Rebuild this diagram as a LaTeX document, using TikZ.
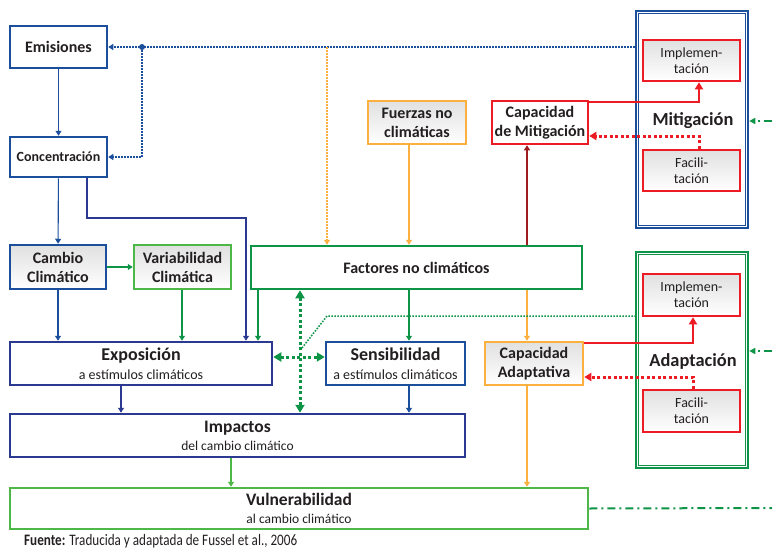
\documentclass[tikz,border=0pt]{standalone}
\usepackage{fontspec}
\setmainfont{Carlito}
\newfontfamily\condfont[FakeStretch=0.82]{Carlito}
\usetikzlibrary{arrows.meta, positioning}

\definecolor{azul}{HTML}{1B4F9C}
\definecolor{marino}{HTML}{2B3990}
\definecolor{verde}{HTML}{0E9447}
\definecolor{verdeclaro}{HTML}{4DB848}
\definecolor{naranja}{HTML}{FBB040}
\definecolor{rojo}{HTML}{ED1C24}
\definecolor{rojoosc}{HTML}{9E1B20}
\definecolor{texto}{HTML}{231F20}

\tikzset{
  caja/.style={draw, line width=2.5pt, fill=white, align=center, inner sep=0pt,
    text=texto, font=\bfseries\fontsize{16}{19}\selectfont},
  sombra/.style={top color=black!12, bottom color=white},
  chica/.style={font=\fontsize{14}{16}\selectfont},
  flecha/.style={-{Triangle[width=6pt,length=5pt]}, line width=1.1pt},
  flechagr/.style={-{Triangle[width=8pt,length=7pt]}, line width=2pt},
  puntos/.style={line width=1.8pt, dash pattern=on 1.6pt off 1.4pt},
  puntosgr/.style={line width=3pt, dash pattern=on 3pt off 2.5pt},
  rayapunto/.style={line width=2pt, dash pattern=on 8pt off 4pt on 2pt off 4pt}
}

\begin{document}
\begin{tikzpicture}[x=1pt, y=-1pt]
\useasboundingbox (0,0) rectangle (772,549);

% columns and turning points
\coordinate (jd) at (142,47);
\coordinate (k87) at (87,0);
\coordinate (k121) at (121,0);
\coordinate (k182) at (182,0);
\coordinate (k231) at (231,0);
\coordinate (k246) at (246,218);
\coordinate (k258) at (258,0);
\coordinate (k300) at (300,0);
\coordinate (k327) at (327,47);
\coordinate (k409) at (409,0);
\coordinate (k527) at (527,0);
\coordinate (k699) at (699,102);
\coordinate (k693) at (693,343);
\coordinate (gx) at (302,348);
\coordinate (gy) at (327,316);
\coordinate (borde1) at (772,121);
\coordinate (borde2) at (772,351);
\coordinate (borde3) at (772,508);

% left column
\node[caja, draw=azul, minimum width=97pt, minimum height=42pt] (emis) at (58.5,47) {Emisiones};
\node[caja, draw=azul, minimum width=97pt, minimum height=40pt, font=\bfseries\fontsize{14}{16}\selectfont] (conc) at (58.5,157) {Concentración};
\node[caja, sombra, draw=azul, minimum width=96pt, minimum height=44pt] (cambio) at (58,267) {Cambio\\Climático};
\node[caja, sombra, draw=verdeclaro, minimum width=97pt, minimum height=44pt] (variab) at (182.5,267) {Variabilidad\\Climática};

% middle
\node[caja, draw=verde, minimum width=331pt, minimum height=43pt] (factores) at (416.5,267.5) {Factores no climáticos};
\node[caja, sombra, draw=naranja, minimum width=98pt, minimum height=43pt] (fuerzas) at (417,122.5) {Fuerzas no\\climáticas};
\node[caja, draw=rojo, minimum width=96pt, minimum height=43pt] (capmit) at (540,122.5) {Capacidad\\de Mitigación};

% mitigation block
\node[draw=azul, line width=2.5pt, minimum width=112pt, minimum height=217pt, inner sep=0pt] (mitig) at (692,119.5) {};
\draw[azul, line width=1pt] ([shift={(4pt,4pt)}]mitig.south west) rectangle ([shift={(-4pt,-4pt)}]mitig.north east);
\node[caja, sombra, chica, draw=rojo, minimum width=97pt, minimum height=41pt] (implM) at (691.5,60.5) {Implemen-\\tación};
\node[caja, sombra, chica, draw=rojo, minimum width=97pt, minimum height=41pt] (facilM) at (691.5,170.5) {Facili-\\tación};
\node[text=texto, font=\bfseries\fontsize{18.4}{20}\selectfont] (mitlab) at (693,121) {Mitigación};

% adaptation block
\node[draw=verde, line width=2.5pt, minimum width=112pt, minimum height=216pt, inner sep=0pt] (adapt) at (692,360) {};
\draw[verde, line width=1pt] ([shift={(4pt,4pt)}]adapt.south west) rectangle ([shift={(-4pt,-4pt)}]adapt.north east);
\node[caja, sombra, chica, draw=rojo, minimum width=97pt, minimum height=42pt] (implA) at (691.5,295) {Implemen-\\tación};
\node[caja, sombra, chica, draw=rojo, minimum width=97pt, minimum height=42pt] (facilA) at (691.5,411) {Facili-\\tación};
\node[text=texto, font=\bfseries\fontsize{18.4}{20}\selectfont] (adaplab) at (693,361) {Adaptación};

% lower boxes
\node[caja, draw=marino, minimum width=262pt, minimum height=43pt, font=\bfseries\fontsize{18}{19}\selectfont] (expo) at (141,363.5)
  {Exposición\\{\mdseries\fontsize{14}{19}\selectfont a estímulos climáticos}};
\node[caja, draw=azul, minimum width=139pt, minimum height=43pt, font=\bfseries\fontsize{18}{19}\selectfont] (sensib) at (395.5,363.5)
  {Sensibilidad\\{\mdseries\fontsize{14}{19}\selectfont a estímulos climáticos}};
\node[caja, sombra, draw=naranja, minimum width=98pt, minimum height=43pt] (capad) at (534,363.5) {Capacidad\\Adaptativa};
\node[caja, draw=marino, minimum width=455pt, minimum height=43pt, font=\bfseries\fontsize{17.5}{18}\selectfont] (impactos) at (237.5,435.5)
  {Impactos\\{\mdseries\fontsize{13.5}{18}\selectfont del cambio climático}};
\node[caja, draw=verdeclaro, minimum width=578pt, minimum height=41pt, font=\bfseries\fontsize{17.5}{18}\selectfont] (vulner) at (299,508.5)
  {Vulnerabilidad\\{\mdseries\fontsize{13.5}{18}\selectfont al cambio climático}};

\node[anchor=west, inner sep=0pt, text=texto, font=\condfont\fontsize{16}{17}\selectfont] (fuente) at (24,541)
  {\textbf{Fuente:} Traducida y adaptada de Fussel et al., 2006};

% connectors
\draw[flecha, azul] (emis) -- (conc);
\draw[flecha, azul] (conc) -- (cambio);
\draw[azul, puntos, -{Triangle[width=6pt,length=5pt]}] (emis.east -| mitig.west) -- (emis.east);
\fill[azul] (jd) circle (3pt);
\draw[azul, puntos, -{Triangle[width=6pt,length=5pt]}] (jd) |- (conc.east);
\draw[flecha, marino] (conc.south -| k87) |- (k246) -- (expo.north -| k246);
\draw[flecha, verde] (cambio) -- (variab);
\draw[flecha, azul] (cambio) -- (cambio.south |- expo.north);
\draw[flecha, verde] (variab.south -| k182) -- (expo.north -| k182);
\draw[flecha, verde] (factores.south -| k258) -- (expo.north -| k258);
\draw[flecha, verde] (factores.south -| k409) -- (sensib.north -| k409);
\draw[flecha, naranja] (fuerzas.south -| k409) -- (factores.north -| k409);
\draw[naranja, puntos, -{Triangle[width=6pt,length=5pt]}] (k327) -- (factores.north -| k327);
\draw[flecha, rojoosc, line width=2pt] (factores.north -| k527) -- (capmit.south -| k527);
\draw[rojo, flechagr] (capmit.east |- k699) -- (k699) -- (implM.south -| k699);
\draw[rojo, puntosgr, -{Triangle[width=8pt,length=7pt]}] (facilM.north -| k699) |- (capmit.east |- 0,136);
\draw[flecha, naranja] (factores.south -| k527) -- (capad.north -| k527);
\draw[flecha, naranja] (capad.south -| k527) -- (vulner.north -| k527);
\draw[rojo, flechagr] (capad.east |- k693) -- (k693) -- (implA.south -| k693);
\draw[rojo, puntosgr, -{Triangle[width=8pt,length=7pt]}] (facilA.north -| k693) |- (capad.east |- 0,377);
\draw[flecha, marino] (expo.south -| k121) -- (impactos.north -| k121);
\draw[flecha, azul] (sensib.south -| k409) -- (impactos.north -| k409);
\draw[verde, puntosgr, {Triangle[width=9pt,length=8pt]}-{Triangle[width=9pt,length=8pt]}] (factores.south -| k300) -- (impactos.north -| k300);
\draw[verde, puntosgr, {Triangle[width=9pt,length=8pt]}-{Triangle[width=9pt,length=8pt]}] (expo.east |- 0,357) -- (sensib.west |- 0,357);
\draw[verde, puntos, line width=1.5pt] (gx) -- (gy) -- (gy -| adapt.west);
\draw[flecha, verdeclaro, line width=1.5pt] (impactos.south -| k231) -- (vulner.north -| k231);
\draw[verde, rayapunto] (vulner.east) -- (borde3);
\draw[verde, rayapunto, -{Triangle[width=6pt,length=6pt]}] (borde1) -- (borde1 -| mitig.east);
\draw[verde, rayapunto, -{Triangle[width=6pt,length=6pt]}] (borde2) -- (borde2 -| adapt.east);
\end{tikzpicture}
\end{document}
